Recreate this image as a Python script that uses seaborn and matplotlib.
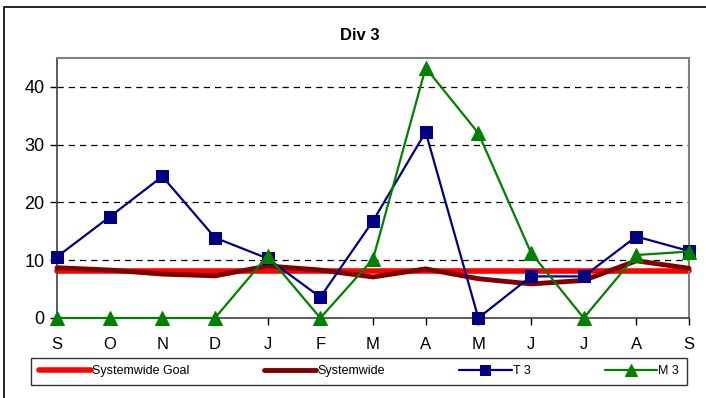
import matplotlib
matplotlib.use("Agg")
import matplotlib.pyplot as plt
import seaborn as sns
import pandas as pd
from matplotlib.patches import Rectangle

months = ["S", "O", "N", "D", "J", "F", "M", "A", "M", "J", "J", "A", "S"]
goal = [8.2] * 13
systemwide = [8.7, 8.3, 7.6, 7.3, 9.0, 8.3, 7.1, 8.5, 6.8, 5.9, 6.5, 9.9, 8.6]
t3 = [10.6, 17.5, 24.5, 13.9, 10.3, 3.6, 16.8, 32.2, 0.0, 7.2, 7.2, 14.1, 11.6]
m3 = [0, 0, 0, 0, 10.8, 0, 10.2, 43.3, 32.0, 11.3, 0, 10.9, 11.5]

sns.set_theme(style="white")
plt.rcParams["font.family"] = ["Liberation Sans", "DejaVu Sans"]
plt.rcParams.update({"text.color": "black", "xtick.color": "black", "ytick.color": "black",
                     "axes.labelcolor": "black"})

fig = plt.figure(figsize=(7.06, 3.98), dpi=100)
ax = fig.add_axes([57/706, 1 - 318/398, (689-57)/706, (318-58)/398])

idx = list(range(len(months)))
df = pd.DataFrame({"x": idx, "goal": goal, "sys": systemwide, "t3": t3, "m3": m3})

sns.lineplot(data=df, x="x", y="goal", ax=ax, color="#ff0000", lw=4, label="Systemwide Goal", zorder=2)
sns.lineplot(data=df, x="x", y="sys", ax=ax, color="#800000", lw=3.5, label="Systemwide", zorder=3)
sns.lineplot(data=df, x="x", y="t3", ax=ax, color="#000080", lw=1.6, marker="s", markersize=8,
             markeredgecolor="#000080", label="T 3", zorder=4)
sns.lineplot(data=df, x="x", y="m3", ax=ax, color="#008000", lw=1.6, marker="^", markersize=10,
             markeredgecolor="#008000", label="M 3", zorder=5)

ax.set_xlim(0, 12)
ax.set_ylim(0, 45)
ax.set_xticks(idx)
ax.set_xticklabels(months, fontsize=12)
ax.set_yticks([0, 10, 20, 30, 40])
ax.set_yticklabels(["0", "10", "20", "30", "40"], fontsize=13)
ax.set_xlabel("")
ax.set_ylabel("")
ax.tick_params(axis="both", which="both", direction="out", length=5, width=1, color="black",
               bottom=True, left=True)
ax.tick_params(axis="x", pad=9)
ax.tick_params(axis="y", pad=4)
for y in [10, 20, 30, 40]:
    ax.axhline(y, color="black", lw=0.9, ls=(0, (5, 4)), zorder=1)
for s in ["top", "right"]:
    ax.spines[s].set_color("#808080")
    ax.spines[s].set_linewidth(1.5)
for s in ["left", "bottom"]:
    ax.spines[s].set_color("#404040")
    ax.spines[s].set_linewidth(1.2)
for s in ax.spines:
    ax.spines[s].set_visible(True)
ax.set_facecolor("white")
for line in ax.lines:
    line.set_clip_on(False)

ax.get_legend().remove()
handles, labels = ax.get_legend_handles_labels()
leg = fig.legend(handles, labels, ncol=4, loc="lower left",
                 bbox_to_anchor=(25/706, 1 - 391/398, (693-25)/706, 30/398),
                 mode="expand", frameon=True, fancybox=False, fontsize=9,
                 handlelength=4.2, handletextpad=0.1, borderpad=0.6, edgecolor="black",
                 markerscale=0.85)
leg.get_frame().set_linewidth(1.0)
for t in leg.get_texts():
    t.set_color("black")

fig.text(360/706, 1 - 35/398, "Div 3", ha="center", va="center", fontsize=12, fontweight="bold")

fig.patches.append(Rectangle((4/706, -5/398), 710/706, 396/398, transform=fig.transFigure,
                             fill=False, edgecolor="black", lw=1.2))

fig.savefig("out.png", dpi=100)
